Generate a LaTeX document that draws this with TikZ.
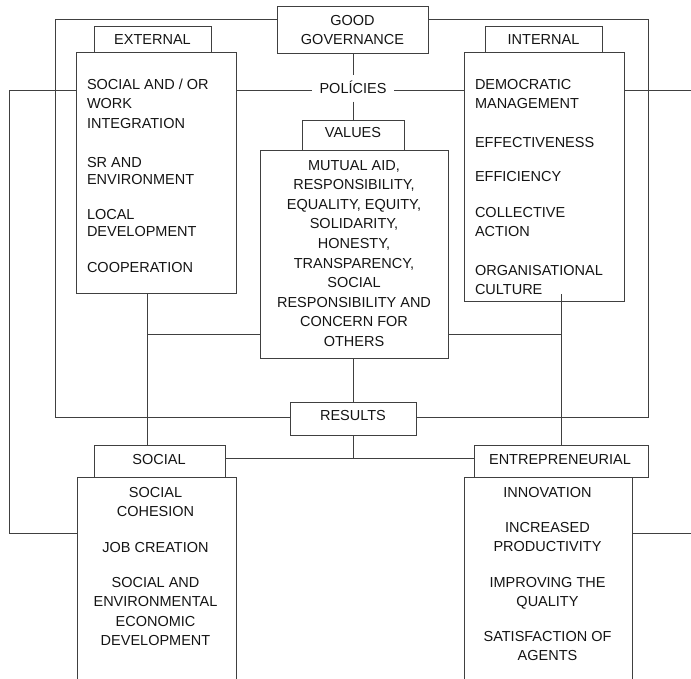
\documentclass[tikz,border=0pt]{standalone}
\usepackage{fontspec}
\setmainfont{Liberation Sans}
% left- and centre-aligned stacks whose baseline is the first row
\newcommand\lstack[1]{\begin{tabular}[t]{@{}l@{}}#1\end{tabular}}
\newcommand\cstack[1]{\begin{tabular}[t]{@{}c@{}}#1\end{tabular}}
\begin{document}
\begin{tikzpicture}[x=1pt,y=-1pt,
  ln/.style={draw=black!75,line width=1pt},
  box/.style={draw=black!75,line width=1pt,anchor=north west,inner sep=0pt,outer sep=0pt},
  lbl/.style={inner sep=0pt,outer sep=0pt,text=black!92,font=\fontsize{14.5}{19.5}\selectfont},
  tight/.style={lbl,font=\fontsize{14.5}{17.5}\selectfont},
]
\useasboundingbox (0,0) rectangle (691,678);
\clip (0,0) rectangle (691,678);

% ---------- boxes ----------
\node[box,minimum width=151,minimum height=47] (gg) at (277,6) {};
\node[box,minimum width=160,minimum height=241] (ext) at (76,52) {};
\node[box,minimum width=117,minimum height=26] (extTab) at (94,26) {};
\node[box,minimum width=160,minimum height=249] (int) at (464,52) {};
\node[box,minimum width=117,minimum height=26] (intTab) at (485,26) {};
\node[box,minimum width=188,minimum height=208] (val) at (260,150) {};
\node[box,minimum width=102,minimum height=30] (valTab) at (302,120) {};
\node[box,minimum width=126,minimum height=33] (res) at (290,402) {};
\node[box,minimum width=159,minimum height=240] (soc) at (77,477) {};
\node[box,minimum width=131,minimum height=32] (socTab) at (94,445) {};
\node[box,minimum width=168,minimum height=240] (ent) at (464,477) {};
\node[box,minimum width=174,minimum height=32] (entTab) at (474,445) {};

% policies label sits on the connector
\node[lbl,anchor=base,text height=10.3pt,text depth=0pt,inner xsep=8pt,inner ysep=8pt] (pol) at (353,93.5) {POLÍCIES};

% ---------- tab and box texts ----------
\node[lbl,anchor=base] (ggT) at (352.5,25) {\cstack{GOOD\\GOVERNANCE}};
\node[lbl,anchor=base] (extT) at (152.5,44.3) {EXTERNAL};
\node[lbl,anchor=base] (intT) at (543.5,44.3) {INTERNAL};
\node[lbl,anchor=base] (valT) at (353,137.7) {VALUES};
\node[lbl,anchor=base] (resT) at (353,420) {RESULTS};
\node[lbl,anchor=base] (socT) at (159,464) {SOCIAL};
\node[lbl,anchor=base] (entT) at (560,464) {ENTREPRENEURIAL};

% external items
\node[lbl,anchor=base west] (ex1) at (87,89.3) {\lstack{SOCIAL AND / OR\\WORK\\INTEGRATION}};
\node[tight,anchor=base west] (ex2) at (87,167.3) {\lstack{SR AND\\ENVIRONMENT}};
\node[tight,anchor=base west] (ex3) at (87,219) {\lstack{LOCAL\\DEVELOPMENT}};
\node[lbl,anchor=base west] (ex4) at (87,272) {COOPERATION};

% internal items
\node[lbl,anchor=base west] (in1) at (475,89.3) {\lstack{DEMOCRATIC\\MANAGEMENT}};
\node[lbl,anchor=base west] (in2) at (475,147.3) {EFFECTIVENESS};
\node[lbl,anchor=base west] (in3) at (475,181.7) {EFFICIENCY};
\node[lbl,anchor=base west] (in4) at (475,217.3) {\lstack{COLLECTIVE\\ACTION}};
\node[lbl,anchor=base west] (in5) at (475,275) {\lstack{ORGANISATIONAL\\CULTURE}};

% values
\node[lbl,anchor=base,font=\fontsize{14.5}{19.6}\selectfont] (vals) at (354,170)
  {\cstack{MUTUAL AID,\\RESPONSIBILITY,\\EQUALITY, EQUITY,\\SOLIDARITY,\\HONESTY,\\TRANSPARENCY,\\SOCIAL\\RESPONSIBILITY AND\\CONCERN FOR\\OTHERS}};

% social results
\node[lbl,anchor=base] (so1) at (155.5,497) {\cstack{SOCIAL\\COHESION}};
\node[lbl,anchor=base] (so2) at (155.5,552) {JOB CREATION};
\node[lbl,anchor=base] (so3) at (155.5,587) {\cstack{SOCIAL AND\\ENVIRONMENTAL\\ECONOMIC\\DEVELOPMENT}};

% entrepreneurial results
\node[lbl,anchor=base] (en1) at (547.5,497) {INNOVATION};
\node[lbl,anchor=base] (en2) at (547.5,532) {\cstack{INCREASED\\PRODUCTIVITY}};
\node[lbl,anchor=base] (en3) at (547.5,587) {\cstack{IMPROVING THE\\QUALITY}};
\node[lbl,anchor=base] (en4) at (547.5,641) {\cstack{SATISFACTION OF\\AGENTS}};

% ---------- connectors ----------
\coordinate (ftl) at (55,19);
\coordinate (ftr) at (648,19);
\coordinate (fbl) at (55,417);
\coordinate (fbr) at (648,417);
\coordinate (polrow) at (353,90);
\coordinate (lt) at (9,90);
\coordinate (lb) at (9,533);
\coordinate (rt) at (692,90);
\coordinate (rb) at (692,533);
\coordinate (jl) at (147,334);
\coordinate (jr) at (561,334);
\coordinate (cultEnd) at (561,294);
\coordinate (rj) at (353,458);

% outer governance frame
\draw[ln] (gg.west |- ftl) -- (ftl) -- (fbl) -- (res.west |- fbl);
\draw[ln] (gg.east |- ftr) -- (ftr) -- (fbr) -- (res.east |- fbr);

% policies axis
\draw[ln] (gg.south -| pol) -- (pol.north);
\draw[ln] (pol.south) -- (valTab.north -| pol);
\draw[ln] (ext.east |- polrow) -- (pol.west |- polrow);
\draw[ln] (pol.east |- polrow) -- (int.west |- polrow);

% side loops
\draw[ln] (ext.west |- lt) -- (lt) -- (lb) -- (soc.west |- lb);
\draw[ln] (int.east |- rt) -- (rt);
\draw[ln] (ent.east |- rb) -- (rb);

% links down to the results
\draw[ln] (ext.south -| jl) -- (socTab.north -| jl);
\draw[ln] (jl) -- (val.west |- jl);
\draw[ln] (val.east |- jr) -- (jr);
\draw[ln] (cultEnd) -- (entTab.north -| jr);
\draw[ln] (val.south -| res.north) -- (res.north);
\draw[ln] (res.south) -- (rj);
\draw[ln] (socTab.east |- rj) -- (entTab.west |- rj);
\end{tikzpicture}
\end{document}
